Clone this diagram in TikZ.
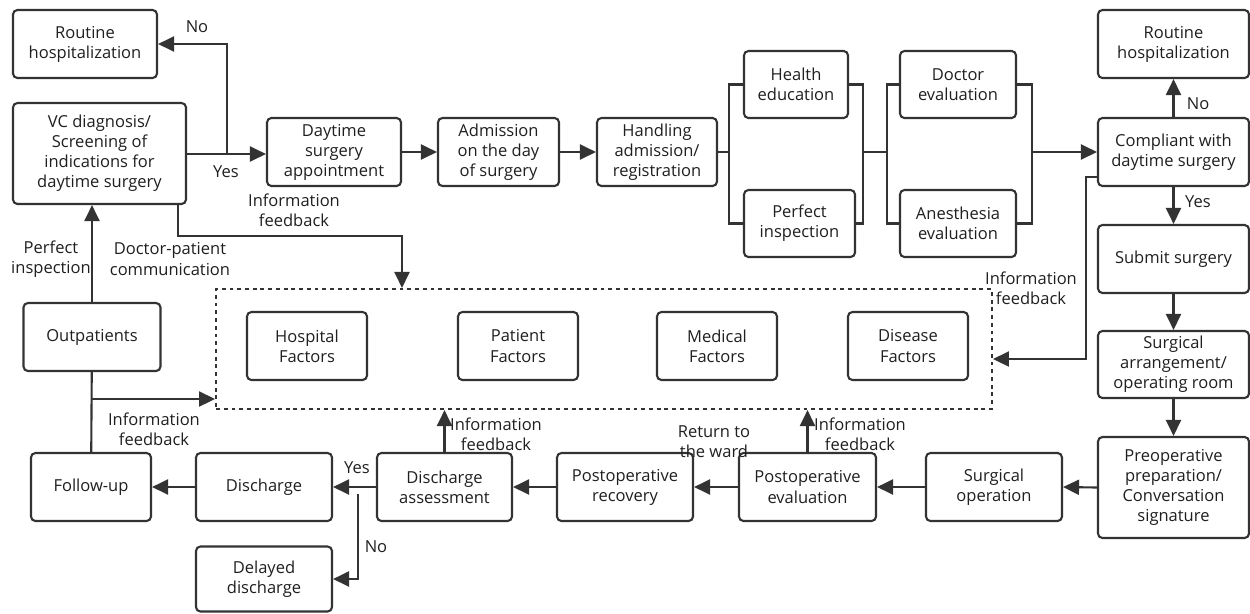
\documentclass[tikz,border=0pt]{standalone}
\usepackage{fontspec}
\setmainfont{Open Sans}
\usetikzlibrary{arrows.meta, positioning, calc}

\tikzset{
  txt/.style={font=\fontsize{9.4}{11.4}\selectfont, text=black!88},
  box/.style={rectangle, rounded corners=2.5pt, draw=black!80, line width=1.2pt, align=center, inner sep=1pt, txt},
  conn/.style={draw=black!80, line width=1.2pt},
  arr/.style={conn, -{Triangle[length=0.32cm, width=0.3cm]}},
  lbl/.style={align=center, inner sep=0pt, txt},
  factorbox/.style={rectangle, draw=black!80, line width=1.2pt, dash pattern=on 2.2pt off 2.2pt},
}

\begin{document}
\begin{tikzpicture}[x=0.02cm, y=-0.02cm]
\useasboundingbox (0,0) rectangle (1250,613);

\node[box, minimum width=2.88cm, minimum height=1.36cm] (rh1) at (85,44) {Routine\\hospitalization};
\node[box, minimum width=3.46cm, minimum height=2.02cm] (vc) at (99.5,153.5) {VC diagnosis/\\Screening of\\indications for\\daytime surgery};
\node[box, minimum width=2.68cm, minimum height=1.36cm] (appt) at (334,152) {Daytime\\surgery\\appointment};
\node[box, minimum width=2.42cm, minimum height=1.36cm] (adm) at (498.5,152) {Admission\\on the day\\of surgery};
\node[box, minimum width=2.4cm, minimum height=1.36cm] (hand) at (657,152) {Handling\\admission/\\registration};
\node[box, minimum width=2.08cm, minimum height=1.34cm] (health) at (796,84.5) {Health\\education};
\node[box, minimum width=2.22cm, minimum height=1.34cm] (perf) at (799.5,223.5) {Perfect\\inspection};
\node[box, minimum width=2.32cm, minimum height=1.34cm] (doc) at (958,84.5) {Doctor\\evaluation};
\node[box, minimum width=2.32cm, minimum height=1.34cm] (anes) at (958,223.5) {Anesthesia\\evaluation};
\node[box, minimum width=3.02cm, minimum height=1.36cm] (rh2) at (1173.5,44) {Routine\\hospitalization};
\node[box, minimum width=3.02cm, minimum height=1.36cm] (comp) at (1173.5,152) {Compliant with\\daytime surgery};
\node[box, minimum width=3.02cm, minimum height=1.36cm] (submit) at (1173.5,259) {Submit surgery};
\node[box, minimum width=3.02cm, minimum height=1.34cm] (arrange) at (1173.5,364.5) {Surgical\\arrangement/\\operating room};
\node[box, minimum width=3.02cm, minimum height=2.02cm] (prep) at (1173.5,487.5) {Preoperative\\preparation/\\Conversation\\signature};
\node[box, minimum width=2.72cm, minimum height=1.36cm] (surgop) at (994,487) {Surgical\\operation};
\node[box, minimum width=2.74cm, minimum height=1.36cm] (peval) at (807.5,487) {Postoperative\\evaluation};
\node[box, minimum width=2.72cm, minimum height=1.36cm] (prec) at (625,487) {Postoperative\\recovery};
\node[box, minimum width=2.7cm, minimum height=1.36cm] (dasm) at (444.5,487) {Discharge\\assessment};
\node[box, minimum width=2.72cm, minimum height=1.36cm] (disch) at (264,487) {Discharge};
\node[box, minimum width=2.72cm, minimum height=1.3cm] (delay) at (264,579) {Delayed\\discharge};
\node[box, minimum width=2.4cm, minimum height=1.36cm] (follow) at (91,487) {Follow-up};
\node[box, minimum width=2.74cm, minimum height=1.36cm] (outp) at (92,337) {Outpatients};

\node[factorbox, minimum width=15.52cm, minimum height=2.4cm] (factors) at (604,349) {};
\node[box, minimum width=2.4cm, minimum height=1.36cm] (hosp) at (307,346) {Hospital\\Factors};
\node[box, minimum width=2.4cm, minimum height=1.36cm] (pat) at (518,346) {Patient\\Factors};
\node[box, minimum width=2.4cm, minimum height=1.36cm] (med) at (717,346) {Medical\\Factors};
\node[box, minimum width=2.4cm, minimum height=1.36cm] (dis) at (908,346) {Disease\\Factors};

% branch points
\coordinate (yn1) at (227,154);
\coordinate (fbA) at (178,236);
\coordinate (fbB) at (402,236);
\coordinate (sp1) at (729,152);
\coordinate (sp2) at (863,152);
\coordinate (sp3) at (887,152);
\coordinate (sp4) at (1032,152);
\coordinate (fbC) at (1086,359);
\coordinate (ob) at (92,399);
\coordinate (nb) at (358,494);

\draw[arr] (vc.east |- yn1) -- (appt.west |- yn1);
\draw[arr] (yn1) |- (rh1.east);
\draw[arr] (vc.south -| fbA) -- (fbA) -- (fbB) -- (fbB |- factors.north);
\draw[arr] (appt) -- (adm);
\draw[arr] (adm) -- (hand);
\draw[conn] (hand.east) -- (sp1);
\draw[conn] (health.west) -| (sp1) |- (perf.west);
\draw[conn] (health.east) -| (sp2) |- (perf.east);
\draw[conn] (sp2) -- (sp3);
\draw[conn] (doc.west) -| (sp3) |- (anes.west);
\draw[conn] (doc.east) -| (sp4) |- (anes.east);
\draw[arr] (sp4) -- (comp.west);
\draw[arr] (comp) -- (rh2);
\draw[arr] (comp) -- (submit);
\draw[arr] (submit) -- (arrange);
\draw[arr] (arrange) -- (prep);
\draw[arr] ([yshift=-0.5cm]comp.west) -| (fbC) -- (fbC -| factors.east);
\draw[arr] (prep.west) -- (surgop.east);
\draw[arr] (surgop) -- (peval);
\draw[arr] (peval) -- (prec);
\draw[arr] (prec) -- (dasm);
\draw[arr] (dasm) -- (disch);
\draw[arr] (nb) |- (delay.east);
\draw[arr] (disch) -- (follow);
\draw[arr] (outp) -- (vc.south -| outp);
\draw[conn] (outp) -- (follow);
\draw[arr] (ob) -- (ob -| factors.west);
\draw[arr] (dasm) -- (dasm.north |- factors.south);
\draw[arr] (peval) -- (peval.north |- factors.south);

\node[lbl] (lno1) at (197,27) {No};
\node[lbl] (lyes1) at (226,172) {Yes};
\node[lbl] (lfb1) at (294,210) {Information\\feedback};
\node[lbl] (lperf) at (51,259) {Perfect\\inspection};
\node[lbl] (lcomm) at (170,259) {Doctor-patient\\communication};
\node[lbl] (lno2) at (1198,104) {No};
\node[lbl] (lyes2) at (1198,202) {Yes};
\node[lbl] (lfb2) at (1031,288) {Information\\feedback};
\node[lbl] (lfb3) at (154,429) {Information\\feedback};
\node[lbl] (lyes3) at (357,468) {Yes};
\node[lbl] (lno3) at (376,547) {No};
\node[lbl] (lfb4) at (496,434) {Information\\feedback};
\node[lbl] (lward) at (714,442) {Return to\\the ward};
\node[lbl] (lfb5) at (860,434) {Information\\feedback};
\end{tikzpicture}
\end{document}
